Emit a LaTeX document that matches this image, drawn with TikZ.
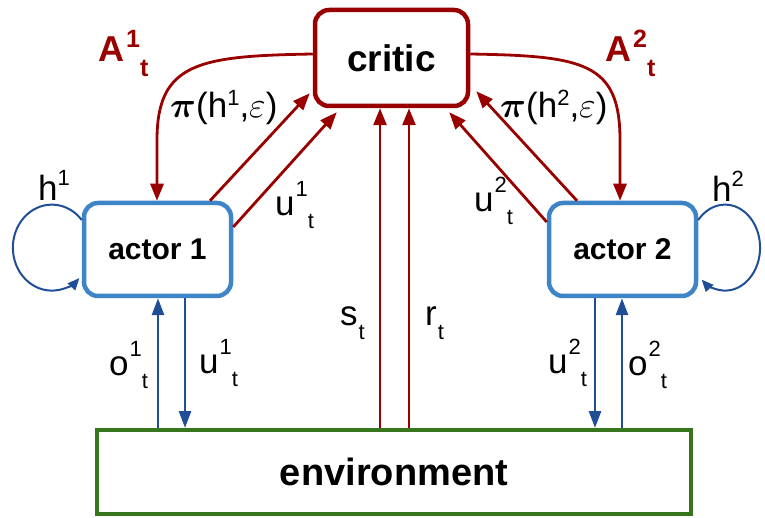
\documentclass[tikz,border=0pt]{standalone}
\usepackage{fontspec}
\setmainfont{Liberation Sans}
\usepackage{bm}
\usepackage{graphicx}
\usetikzlibrary{arrows.meta}
\definecolor{cred}{HTML}{990000}
\definecolor{cblue}{HTML}{3D85C6}
\definecolor{carrow}{HTML}{1F4E96}
\definecolor{cgreen}{HTML}{38761D}
\newcommand{\smallfnt}{\fontsize{22}{22}\selectfont}
\newcommand{\bsmallfnt}{\fontsize{25}{25}\selectfont}
\newcommand{\lbl}[3]{#1\kern1pt\raisebox{19pt}{\smallfnt #2}\raisebox{-13pt}{\smallfnt #3}}
\newcommand{\blbl}[3]{#1\kern2pt\raisebox{14pt}{\bsmallfnt #2}\raisebox{-15pt}{\bsmallfnt #3}}
\newcommand{\bigpi}{\scalebox{1.45}{$\bm{\pi}$}}
\newcommand{\bigeps}{\scalebox{1.45}{$\varepsilon$}}
\begin{document}
\begin{tikzpicture}[x=1pt,y=1pt,
 box/.style={rounded corners=14pt, line width=4.5pt, inner sep=0pt, fill=white,
   font=\bfseries\fontsize{30}{32}\selectfont},
 ra/.style={draw=cred, line width=2.8pt, -{Triangle[length=17pt,width=13pt]}},
 ba/.style={draw=carrow, line width=2.8pt, -{Triangle[length=17pt,width=12pt]}},
 la/.style={draw=carrow, line width=2pt, -{Triangle[length=12pt,width=10pt]}},
 lab/.style={font=\fontsize{35}{38}\selectfont, inner sep=0pt, anchor=base west},
 rlab/.style={font=\bfseries\fontsize{36}{38}\selectfont, text=cred, inner sep=0pt, anchor=base west}]
\useasboundingbox (0,0) rectangle (765,517);
\node[box, draw=cred, minimum width=153pt, minimum height=96pt,
  font=\bfseries\fontsize{37}{40}\selectfont] (critic) at (391.5,459) {critic};
\node[box, draw=cblue, minimum width=147pt, minimum height=93pt] (a1) at (157.5,267.5) {actor 1};
\node[box, draw=cblue, minimum width=147pt, minimum height=93pt] (a2) at (622.5,267.5) {actor 2};
\node[draw=cgreen, line width=4pt, minimum width=594pt, minimum height=84pt, inner sep=0pt,
  font=\bfseries\fontsize{38}{40}\selectfont] (env) at (394,45) {environment};
% x positions of vertical connectors
\coordinate (xo1) at (158,0);
\coordinate (xu1) at (185,0);
\coordinate (xs) at (380,0);
\coordinate (xr) at (409,0);
\coordinate (xu2) at (595,0);
\coordinate (xo2) at (622,0);
\coordinate (xp1) at (210,0);
\coordinate (xp2) at (577,0);
\coordinate (xa1) at (157,0);
\coordinate (xa2) at (620,0);
% blue connectors
\draw[ba] (env.north -| xo1) -- (a1.south -| xo1);
\draw[ba] (a1.south -| xu1) -- (env.north -| xu1);
\draw[ba] (a2.south -| xu2) -- (env.north -| xu2);
\draw[ba] (env.north -| xo2) -- (a2.south -| xo2);
% red verticals
\draw[ra] (env.north -| xs) -- (critic.south -| xs);
\draw[ra] (env.north -| xr) -- (critic.south -| xr);
% red diagonals
\draw[ra] (a1.north -| xp1) -- ([shift={(-3,15)}]critic.south west);
\draw[ra] (a1.east |- 0,290) -- ([shift={(24,-4)}]critic.south west);
\draw[ra] (a2.north -| xp2) -- ([shift={(6,17)}]critic.south east);
\draw[ra] (a2.west |- 0,295) -- ([shift={(-21,-4)}]critic.south east);
% A curves
\draw[ra] ([yshift=4pt]critic.west) .. controls (200,461) and (157,455) .. (157,377) -- (a1.north -| xa1);
\draw[ra] ([yshift=4pt]critic.east) .. controls (583,461) and (620,455) .. (620,377) -- (a2.north -| xa2);
% self loops
\draw[la] (a1.west |- 0,297) arc[start angle=40, end angle=315, x radius=39, y radius=43];
\draw[la] (a2.east |- 0,297) arc[start angle=140, end angle=-132, x radius=35, y radius=43];
% labels
\node[lab] (lo1) at (109,142) {\lbl{o}{1}{t}};
\node[lab] (lu1) at (199,144) {\lbl{u}{1}{t}};
\node[lab] (lu2) at (548,144) {\lbl{u}{2}{t}};
\node[lab] (lo2) at (628,142) {\lbl{o}{2}{t}};
\node[lab] (ls) at (340,191) {\lbl{s}{}{t}};
\node[lab] (lr) at (425,191) {\lbl{r}{}{t}};
\node[lab] (lu1b) at (275,301) {\lbl{u}{1}{t}};
\node[lab] (lu2b) at (474,305) {\lbl{u}{2}{t}};
\node[lab] (lh1) at (38,316) {h\raisebox{15pt}{\smallfnt 1}};
\node[lab] (lh2) at (712,315) {h\raisebox{15pt}{\smallfnt 2}};
\node[lab] (lp1) at (170,399) {\bigpi(h\raisebox{12pt}{\smallfnt 1},\bigeps)};
\node[lab] (lp2) at (500,399) {\bigpi(h\raisebox{12pt}{\smallfnt 2},\bigeps)};
\node[rlab] (lA1) at (98,455) {\blbl{A}{1}{t}};
\node[rlab] (lA2) at (605,455) {\blbl{A}{2}{t}};
\end{tikzpicture}
\end{document}
